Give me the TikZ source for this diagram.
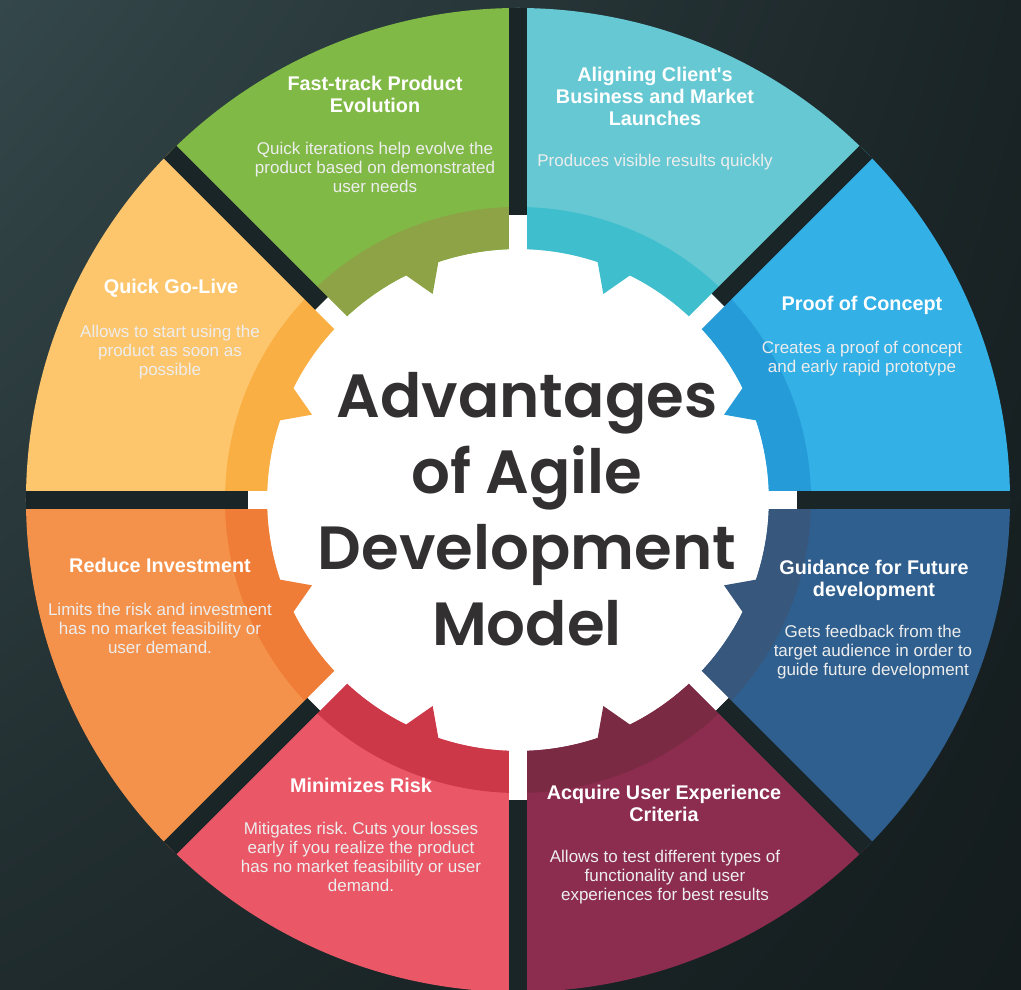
\documentclass[tikz,border=0pt]{standalone}
\usepackage{fontspec}
\setmainfont{Liberation Sans}[Ligatures=TeXOff]
\newfontfamily\titlefont{Poppins}[BoldFont={* SemiBold}]
\usetikzlibrary{shadings}
\frenchspacing

\definecolor{bgA}{HTML}{34474A}
\definecolor{bgB}{HTML}{1A2426}
\definecolor{bgC}{HTML}{1F2B2D}
\definecolor{bgD}{HTML}{141C1D}
\definecolor{gapcol}{HTML}{1A2527}
\definecolor{pocA}{HTML}{33B0E6}
\definecolor{pocB}{HTML}{259BD8}
\definecolor{alnA}{HTML}{66C8D3}
\definecolor{alnB}{HTML}{3FBECD}
\definecolor{fstA}{HTML}{80B946}
\definecolor{fstB}{HTML}{8DA346}
\definecolor{golA}{HTML}{FDC66D}
\definecolor{golB}{HTML}{F9AF44}
\definecolor{redA}{HTML}{F4914A}
\definecolor{redB}{HTML}{F07D37}
\definecolor{rskA}{HTML}{EA5767}
\definecolor{rskB}{HTML}{CC3848}
\definecolor{usrA}{HTML}{8C2D4F}
\definecolor{usrB}{HTML}{7A2A42}
\definecolor{gdA}{HTML}{2F5F8E}
\definecolor{gdB}{HTML}{38577C}
\definecolor{titlecol}{HTML}{323031}

\begin{document}
\begin{tikzpicture}[x=1pt,y=1pt,
    head/.style={text=white, align=center, font=\bfseries\fontsize{19.8}{22}\selectfont},
    desc/.style={text=white!93!black, align=center, font=\fontsize{17}{19}\selectfont\frenchspacing}]

         \useasboundingbox (-518,-490) rectangle (503,500);
         \shade [upper left=bgA, upper right=bgB, lower left=bgC, lower right=bgD] (-518,-490) rectangle (503,500);

         \fill [white] (0,0) circle [radius=300pt];

         \foreach \s/\co/\cb in {0/pocA/pocB, 45/alnA/alnB, 90/fstA/fstB, 135/golA/golB,
                                 180/redA/redB, 225/rskA/rskB, 270/usrA/usrB, 315/gdA/gdB}{
           \fill [\co] (\s:251) arc [start angle=\s, end angle=\s+45, radius=251pt]
                 -- (\s+45:492) arc [start angle=\s+45, end angle=\s, radius=492pt] -- cycle;
           \fill [\cb] (\s:293) arc [start angle=\s, end angle=\s+45, radius=293pt]
                 -- (\s+45:251) arc [start angle=\s+45, end angle=\s+26.5, radius=251pt]
                 -- (\s+22.5:223) -- (\s+18.5:251) arc [start angle=\s+18.5, end angle=\s, radius=251pt] -- cycle;
         }

         \foreach \g/\l in {0/279, 45/283, 90/285, 135/278, 180/270, 225/289, 270/300, 315/289}{
           \draw [line width=18pt, white] (0,0) -- (\g:\l);
           \draw [line width=18pt, gapcol] (\g:\l) -- (\g:492);
         }

         \node [head] (fastH)  at (-143,406)  {Fast-track Product\\Evolution};
         \node [desc] (fastD)  at (-143,333)  {Quick iterations help evolve the\\product based on demonstrated\\user needs};
         \node [head] (alignH) at (137,404)   {Aligning Client's\\Business and Market\\Launches};
         \node [desc] (alignD) at (137,338)   {Produces visible results quickly};
         \node [head] (proofH) at (344,195)   {Proof of Concept};
         \node [desc] (proofD) at (344,141)   {Creates a proof of concept\\and early rapid prototype};
         \node [head] (guideH) at (356,-80)   {Guidance for Future\\development};
         \node [desc] (guideD) at (355,-152)  {Gets feedback from the\\target audience in order to\\guide future development};
         \node [head] (userH)  at (146,-303)  {Acquire User Experience\\Criteria};
         \node [desc] (userD)  at (147,-377)  {Allows to test different types of\\functionality and user\\experiences for best results};
         \node [head] (riskH)  at (-157,-285) {Minimizes Risk};
         \node [desc] (riskD)  at (-157,-357) {Mitigates risk. Cuts your losses\\early if you realize the product\\has no market feasibility or user\\demand.};
         \node [head] (investH) at (-358,-65) {Reduce Investment};
         \node [desc] (investD) at (-358,-128) {Limits the risk and investment\\has no market feasibility or\\user demand.};
         \node [head] (liveH)  at (-347,212)  {Quick Go-Live};
         \node [desc] (liveD)  at (-348,148)  {Allows to start using the\\product as soon as\\possible};

         \node [text=titlecol, align=center, font=\titlefont\bfseries\fontsize{61}{76}\selectfont] (title) at (9,-9)
               {Advantages\\of Agile\\Development\\Model};

\end{tikzpicture}
\end{document}
